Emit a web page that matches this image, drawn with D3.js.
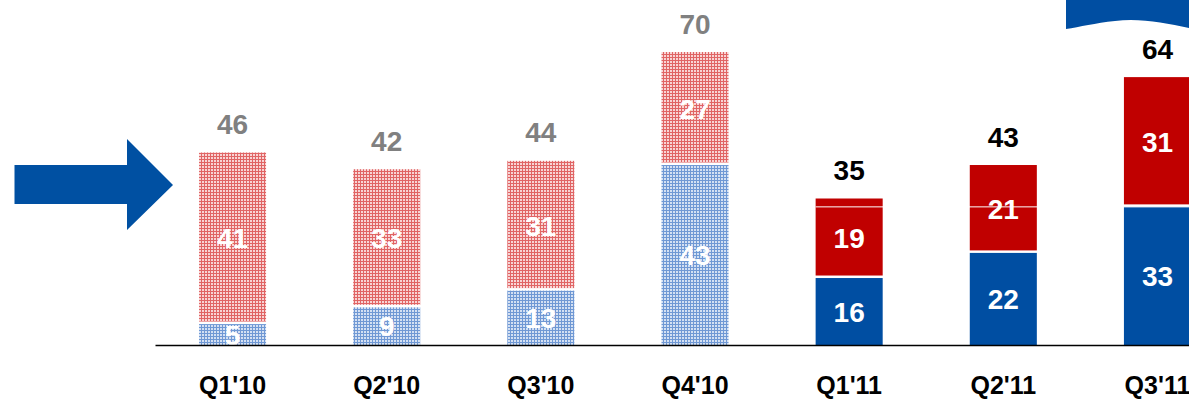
<!DOCTYPE html>
<html>
<head>
<meta charset="utf-8">
<script src="https://cdn.jsdelivr.net/npm/d3@7"></script>
<style>
  html, body { margin: 0; padding: 0; background: #fff; }
  svg { display: block; }
  text { font-family: "Liberation Sans", Arial, sans-serif; font-weight: bold; }
</style>
</head>
<body>
<svg id="chart" width="1189" height="399"></svg>
<script>
// Quarterly results: lower (blue) and upper (red) components, with totals
const categories = ["Q1'10", "Q2'10", "Q3'10", "Q4'10", "Q1'11", "Q2'11", "Q3'11"];
const years      = ["2010", "2010", "2010", "2010", "2011", "2011", "2011"];
const blueValues = [5, 9, 13, 43, 16, 22, 33];
const redValues  = [41, 33, 31, 27, 19, 21, 31];
const totals     = [46, 42, 44, 70, 35, 43, 64];
const markerValue = 33;   // thin white rule across the 2011 bars

const svg = d3.select("#chart");
const W = 1189, H = 399;

const RED = "#C00000", BLUE = "#004EA2";

// Hatched fills for the prior-year bars
const defs = svg.append("defs");
function hatch(id, bg, line) {
  const p = defs.append("pattern")
    .attr("id", id).attr("patternUnits", "userSpaceOnUse")
    .attr("width", 3).attr("height", 3);
  p.append("rect").attr("width", 3).attr("height", 3).attr("fill", bg);
  p.append("rect").attr("x", 0).attr("y", 0).attr("width", 1).attr("height", 3).attr("fill", line);
  p.append("rect").attr("x", 0).attr("y", 0).attr("width", 3).attr("height", 1).attr("fill", line);
}
hatch("hatchRed", "#f8d4d4", "#e06464");
hatch("hatchBlue", "#d3e0f3", "#6f98d4");

const x = d3.scaleBand()
  .domain(categories)
  .range([155, 1235])
  .paddingInner(0.565)
  .paddingOuter(0.2855);

const y = d3.scaleLinear().domain([0, 70]).range([345, 52]);

const rows = categories.map((c, i) => ({
  cat: c, year: years[i], blue: blueValues[i], red: redValues[i], total: totals[i]
}));

const isPrior = d => d.year === "2010";

const g = svg.append("g");

// Lower segment
g.selectAll("rect.blue").data(rows).join("rect")
  .attr("class", "blue")
  .attr("x", d => x(d.cat))
  .attr("width", x.bandwidth())
  .attr("y", d => y(d.blue))
  .attr("height", d => y(0) - y(d.blue))
  .attr("fill", d => isPrior(d) ? "url(#hatchBlue)" : BLUE);

// Upper segment
g.selectAll("rect.red").data(rows).join("rect")
  .attr("class", "red")
  .attr("x", d => x(d.cat))
  .attr("width", x.bandwidth())
  .attr("y", d => y(d.blue + d.red))
  .attr("height", d => y(d.blue) - y(d.blue + d.red) - 2.5)
  .attr("fill", d => isPrior(d) ? "url(#hatchRed)" : RED);

// White rule across the current-year bars
const cur = rows.filter(d => !isPrior(d));
g.append("line")
  .attr("x1", x(cur[0].cat))
  .attr("x2", x(cur[cur.length - 1].cat) + x.bandwidth())
  .attr("y1", y(markerValue)).attr("y2", y(markerValue))
  .attr("stroke", "#fff").attr("stroke-width", 1);

// Segment labels
const fs = 28;
g.selectAll("text.bl").data(rows).join("text")
  .attr("class", "bl")
  .attr("x", d => x(d.cat) + x.bandwidth() / 2)
  .attr("y", d => (y(0) + y(d.blue)) / 2 + fs * 0.36)
  .attr("text-anchor", "middle")
  .attr("font-size", fs)
  .attr("fill", "#fff")
  .text(d => d.blue);

g.selectAll("text.rl").data(rows).join("text")
  .attr("class", "rl")
  .attr("x", d => x(d.cat) + x.bandwidth() / 2)
  .attr("y", d => (y(d.blue) + y(d.blue + d.red)) / 2 + fs * 0.36)
  .attr("text-anchor", "middle")
  .attr("font-size", fs)
  .attr("fill", "#fff")
  .text(d => d.red);

// Totals above bars
g.selectAll("text.tot").data(rows).join("text")
  .attr("class", "tot")
  .attr("x", d => x(d.cat) + x.bandwidth() / 2)
  .attr("y", d => y(d.total) - 18.5)
  .attr("text-anchor", "middle")
  .attr("font-size", fs)
  .attr("fill", d => isPrior(d) ? "#808080" : "#000")
  .text(d => d.total);

// Category axis
const axis = svg.append("g")
  .attr("transform", `translate(0,${y(0)})`)
  .call(d3.axisBottom(x).tickSize(0).tickSizeOuter(0).tickPadding(31));
axis.select(".domain").attr("stroke", "#000").attr("stroke-width", 1.3);
axis.selectAll(".tick text")
  .attr("font-size", 25)
  .attr("font-family", "'Liberation Sans', Arial, sans-serif")
  .attr("font-weight", "bold")
  .attr("fill", "#000");

// Pointer arrow on the left
svg.append("path")
  .attr("d", "M14.5,165 L127,165 L127,139 L173,185 L127,230 L127,204 L14.5,204 Z")
  .attr("fill", "#0050A2");

// Corner banner
svg.append("path")
  .attr("d", "M1066,0 L1189,0 L1189,28 C1165,23 1140,18 1115,21 C1095,23 1080,27 1066,29 Z")
  .attr("fill", "#004EA2");
</script>
</body>
</html>
